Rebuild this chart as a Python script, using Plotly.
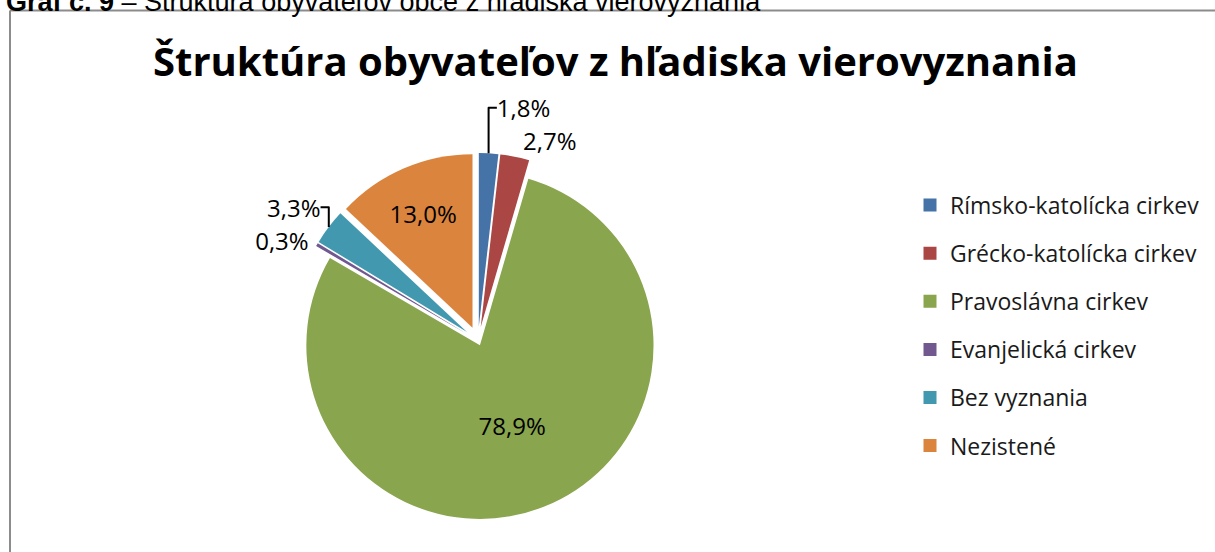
import plotly.graph_objects as go

W, H = 1215, 552

categories = ["Rímsko-katolícka cirkev", "Grécko-katolícka cirkev", "Pravoslávna cirkev",
              "Evanjelická cirkev", "Bez vyznania", "Nezistené"]
shares = [1.8, 2.7, 78.9, 0.3, 3.3, 13.0]

colors = ["#4572A7", "#AA4643", "#89A54E", "#71588F", "#4198AF", "#DB843D"]
pulls = [0.08, 0.08, 0.03, 0.08, 0.08, 0.08]
text_positions = ["outside", "outside", "inside", "outside", "outside", "inside"]

title_text = "Štruktúra obyvateľov z hľadiska vierovyznania"
caption_text = "<b>Graf č. 9</b> – Štruktúra obyvateľov obce z hľadiska vierovyznania"

FONT = "Open Sans"

fig = go.Figure()

fig.add_trace(go.Pie(
    labels=categories,
    values=shares,
    sort=False,
    direction="clockwise",
    rotation=0,
    pull=pulls,
    marker=dict(colors=colors, line=dict(width=0)),
    textposition=text_positions,
    texttemplate="%{percent:.1%}",
    insidetextorientation="horizontal",
    textfont=dict(family=FONT, size=24, color="#000000"),
    showlegend=False,
    hoverinfo="label+percent",
    domain=dict(x=[282 / W, 674 / W], y=[0.0, 1 - 160 / H]),
))

# legend entries (one per category)
for name, col in zip(categories, colors):
    fig.add_trace(go.Scatter(
        x=[None], y=[None], mode="markers", name=name, legendgroup=name,
        marker=dict(symbol="square", size=13, color=col),
        showlegend=True,
    ))

border = dict(color="#8c8c8c", width=2)

fig.update_layout(
    width=W, height=H,
    margin=dict(l=0, r=0, t=0, b=0),
    paper_bgcolor="white",
    plot_bgcolor="white",
    separators=", ",
    xaxis=dict(visible=False),
    yaxis=dict(visible=False),
    legend=dict(
        x=910 / W, y=1 - 192 / H, xanchor="left", yanchor="top",
        font=dict(family=FONT, size=23, color="#1a1a1a"),
        tracegroupgap=15.2,
        traceorder="grouped",
        itemclick=False, itemdoubleclick=False,
        bgcolor="rgba(0,0,0,0)",
    ),
    shapes=[
        dict(type="line", xref="paper", yref="paper",
             x0=10 / W, x1=1.1, y0=1 - 11 / H, y1=1 - 11 / H, line=border, layer="below"),
        dict(type="line", xref="paper", yref="paper",
             x0=10 / W, x1=10 / W, y0=-0.1, y1=1 - 11 / H, line=border, layer="below"),
    ],
    annotations=[
        dict(text=title_text, xref="paper", yref="paper", x=615 / W, y=1 - 63 / H,
             xanchor="center", yanchor="middle", showarrow=False,
             font=dict(family=FONT, size=40, color="#000000", weight="bold")),
        dict(text=caption_text, xref="paper", yref="paper", x=4 / W, y=1 - 2 / H,
             xanchor="left", yanchor="middle", showarrow=False,
             font=dict(family="Liberation Sans", size=27, color="#000000")),
    ],
)

fig.write_html("out.html", config={"displayModeBar": False},
               post_script="document.body.style.margin='0';")
